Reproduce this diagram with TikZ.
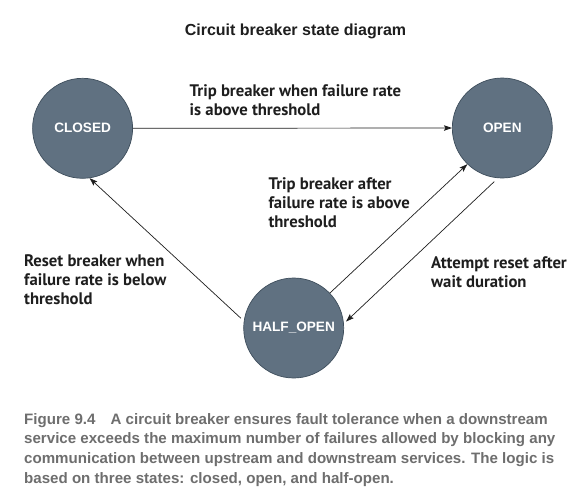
\documentclass[tikz,border=0pt]{standalone}
\usepackage{fontspec}
\setmainfont{Liberation Sans}
\newfontfamily\lblfont{PT Sans}
\newfontfamily\capfont{Liberation Sans}
\usetikzlibrary{arrows.meta}
\definecolor{statefill}{HTML}{607181}
\definecolor{stateline}{HTML}{3E4E5C}
\definecolor{capgray}{HTML}{6E6E6E}
\definecolor{inkdark}{HTML}{1E1E1E}
\tikzset{
  state/.style={circle, minimum size=100pt, inner sep=0pt, fill=statefill,
    draw=stateline, line width=0.7pt, text=white,
    font=\fontsize{13.6}{16}\selectfont\bfseries},
  trans/.style={draw=inkdark, line width=0.7pt,
    -{Stealth[length=8pt,width=5.5pt,inset=1.5pt]}},
  lbl/.style={anchor=base west, inner sep=0pt, align=left, text=inkdark,
    font=\lblfont\fontsize{16.7}{18.7}\selectfont\bfseries},
  captext/.style={anchor=base west, inner sep=0pt, align=left, text=capgray,
    font=\capfont\fontsize{15.1}{19.7}\selectfont\bfseries},
  titletext/.style={inner sep=0pt, text=inkdark,
    font=\fontsize{16}{18}\selectfont\bfseries}
}
\begin{document}
\begin{tikzpicture}[x=1pt,y=-1pt]
\useasboundingbox (0,0) rectangle (581,496);
\fill[white] (0,0) rectangle (581,496);
\node[titletext, anchor=base] (title) at (295.5,35) {Circuit breaker state diagram};
\node[state] (closed) at (82.6,128.3) {CLOSED};
\node[state] (open) at (502.3,128) {OPEN};
\node[state] (half) at (293.7,328) {HALF\_OPEN};
\draw[trans] (closed.east) -- (open.west);
\draw[trans, shorten <=4pt] (half.172.7) -- (closed.-82.9);
\draw[trans] (half.44.5) -- (open.226.3);
\draw[trans, shorten <=5pt, shorten >=3pt] (open.265.9) -- (half.5);
\node[lbl] (l1) at (189.5,115) {Trip breaker when failure rate\\is above threshold};
\node[lbl] (l2) at (268.3,227.3) {Trip breaker after\\failure rate is above\\threshold};
\node[lbl] (l3) at (24,304) {Reset breaker when\\failure rate is below\\threshold};
\node[lbl] (l4) at (431,287.3) {Attempt reset after\\wait duration};
\node[captext] (cap) at (24,483.3) {Figure 9.4\quad A circuit breaker ensures fault tolerance when a downstream\\service exceeds the maximum number of failures allowed by blocking any\\communication between upstream and downstream services. The logic is\\based on three states: closed, open, and half-open.};
\end{tikzpicture}
\end{document}
